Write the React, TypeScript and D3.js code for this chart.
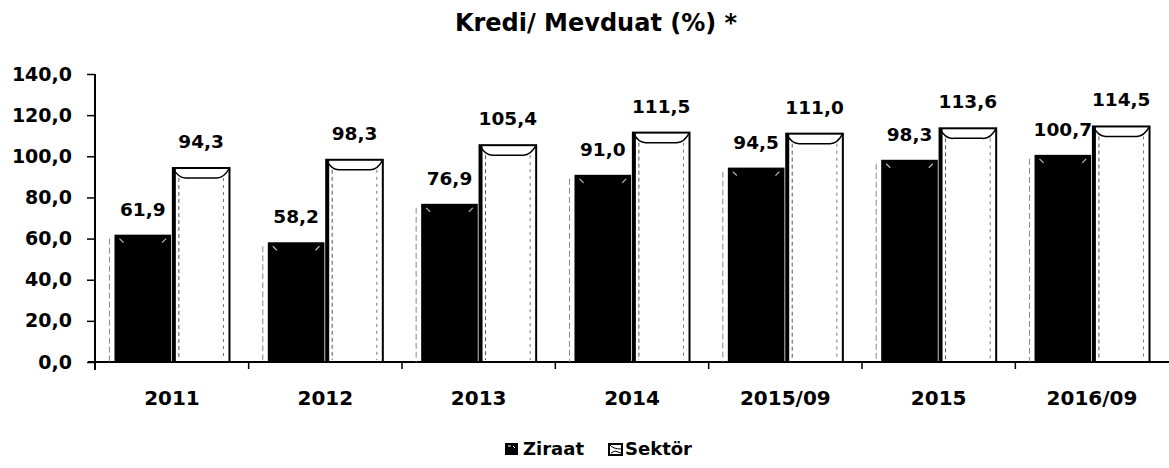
import React, { useEffect, useRef } from "react";
import * as d3 from "d3";

const years = ["2011", "2012", "2013", "2014", "2015/09", "2015", "2016/09"];
const ziraat = [61.9, 58.2, 76.9, 91.0, 94.5, 98.3, 100.7];
const sektor = [94.3, 98.3, 105.4, 111.5, 111.0, 113.6, 114.5];
const series = ["Ziraat", "Sektör"];
const yTicks = [0, 20, 40, 60, 80, 100, 120, 140];

const FONT = "'DejaVu Sans', sans-serif";
const fmt = (v: number) => v.toFixed(1).replace(".", ",");

const App = () => {
  const ref = useRef<SVGSVGElement | null>(null);

  useEffect(() => {
    const svg = d3.select(ref.current);
    svg.selectAll("*").remove();

    const x = d3.scaleBand<string>().domain(years).range([93, 1171]).paddingInner(0.25).paddingOuter(0.14);
    const xs = d3.scaleBand<string>().domain(series).range([0, x.bandwidth()]).paddingInner(0.03);
    const y = d3.scaleLinear().domain([0, 140]).range([362, 74]);
    const gapHalf = (x.step() - x.bandwidth()) / 2;

    // title
    svg.append("text").attr("x", 596).attr("y", 31).attr("text-anchor", "middle")
      .style("font-family", FONT).style("font-weight", "bold").style("font-size", "24px")
      .text("Kredi/ Mevduat (%) *");

    // y axis
    const yAxis = svg.append("g").attr("transform", "translate(95,0)")
      .call(d3.axisLeft(y).tickValues(yTicks).tickSize(8).tickPadding(15).tickFormat((d) => fmt(d as number)));
    yAxis.select(".domain").attr("stroke", "#000").attr("stroke-width", 2).attr("d", "M0,74V370");
    yAxis.selectAll(".tick line").attr("stroke", "#000").attr("stroke-width", 1.5);
    yAxis.selectAll(".tick text").style("font-family", FONT).style("font-weight", "bold")
      .style("font-size", "19px").attr("fill", "#000");

    // x axis line + boundary ticks
    svg.append("line").attr("x1", 88).attr("x2", 1169).attr("y1", y(0)).attr("y2", y(0))
      .attr("stroke", "#000").attr("stroke-width", 2);
    svg.append("g").selectAll("line").data(years.slice(1)).join("line")
      .attr("x1", (d) => x(d)! - gapHalf).attr("x2", (d) => x(d)! - gapHalf)
      .attr("y1", y(0)).attr("y2", y(0) + 7).attr("stroke", "#000").attr("stroke-width", 1.5);

    svg.append("g").selectAll("text").data(years).join("text")
      .attr("x", (d) => x(d)! + x.bandwidth() / 2).attr("y", 405).attr("text-anchor", "middle")
      .style("font-family", FONT).style("font-weight", "bold").style("font-size", "20px")
      .text((d) => d);

    const g = svg.append("g");
    const w = xs.bandwidth();

    // Ziraat bars
    years.forEach((yr, i) => {
      const bx = x(yr)! + xs("Ziraat")!;
      const top = y(ziraat[i]);
      g.append("line").attr("x1", bx - 5).attr("x2", bx - 5).attr("y1", top + 4).attr("y2", y(0))
        .attr("stroke", "#888").attr("stroke-width", 1).attr("stroke-dasharray", "6,3");
      g.append("rect").attr("x", bx).attr("y", top).attr("width", w).attr("height", y(0) - top)
        .attr("fill", "#000");
      g.append("path")
        .attr("d", `M${bx + 5},${top + 4} L${bx + 9},${top + 8} M${bx + w - 5},${top + 4} L${bx + w - 9},${top + 8}`)
        .attr("stroke", "#bbb").attr("stroke-width", 1.2);
      g.append("text").attr("x", bx + w / 2).attr("y", top - 19).attr("text-anchor", "middle")
        .style("font-family", FONT).style("font-weight", "bold").style("font-size", "18.5px")
        .text(fmt(ziraat[i]));
    });

    // Sektör bars
    years.forEach((yr, i) => {
      const bx = x(yr)! + xs("Sektör")!;
      const top = y(sektor[i]);
      g.append("rect").attr("x", bx).attr("y", top).attr("width", w).attr("height", y(0) - top)
        .attr("fill", "#fff").attr("stroke", "#000").attr("stroke-width", 2);
      g.append("line").attr("x1", bx + 1.5).attr("x2", bx + 1.5).attr("y1", top).attr("y2", y(0))
        .attr("stroke", "#000").attr("stroke-width", 3);
      g.append("line").attr("x1", bx + 6).attr("x2", bx + 6).attr("y1", top + 10).attr("y2", y(0) - 2)
        .attr("stroke", "#555").attr("stroke-width", 1).attr("stroke-dasharray", "4,3");
      g.append("line").attr("x1", bx + w - 6).attr("x2", bx + w - 6).attr("y1", top + 10).attr("y2", y(0) - 2)
        .attr("stroke", "#777").attr("stroke-width", 1).attr("stroke-dasharray", "3,4");
      g.append("path")
        .attr("d", `M${bx},${top} Q${bx + 6},${top + 11} ${bx + 14},${top + 10} L${bx + w - 14},${top + 10} Q${bx + w - 6},${top + 11} ${bx + w},${top}`)
        .attr("fill", "none").attr("stroke", "#000").attr("stroke-width", 1.5);
      g.append("text").attr("x", bx + w / 2).attr("y", top - 20).attr("text-anchor", "middle")
        .style("font-family", FONT).style("font-weight", "bold").style("font-size", "18.5px")
        .text(fmt(sektor[i]));
    });

    // legend
    const lg = svg.append("g").attr("transform", "translate(505,443)");
    lg.append("rect").attr("x", 0).attr("y", 0).attr("width", 13).attr("height", 12).attr("fill", "#000");
    lg.append("path").attr("d", "M3,3 L6,3 M8,3 L10,5").attr("stroke", "#fff").attr("stroke-width", 1);
    lg.append("text").attr("x", 18).attr("y", 12).style("font-family", FONT).style("font-weight", "bold")
      .style("font-size", "18px").text(series[0]);
    lg.append("rect").attr("x", 104).attr("y", 1).attr("width", 13).attr("height", 11)
      .attr("fill", "#fff").attr("stroke", "#000").attr("stroke-width", 2);
    lg.append("path").attr("d", "M105,2 Q108,6 116,6 M106,10 L110,8 L116,10").attr("stroke", "#000").attr("fill", "none");
    lg.append("text").attr("x", 120).attr("y", 12).style("font-family", FONT).style("font-weight", "bold")
      .style("font-size", "18px").text(series[1]);
  }, []);

  return (
    <div>
      <style>{`body{margin:0;background:#fff}`}</style>
      <svg ref={ref} width={1169} height={468} style={{ display: "block" }} />
    </div>
  );
};

export default App;
